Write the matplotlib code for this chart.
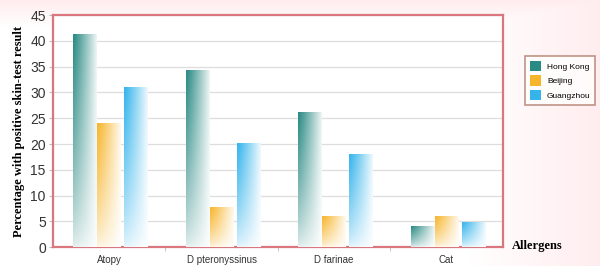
import numpy as np
import matplotlib.pyplot as plt
from matplotlib.patches import Patch

categories = ["Atopy", "D pteronyssinus", "D farinae", "Cat"]
series = ["Hong Kong", "Beijing", "Guangzhou"]
hong_kong = [41.3, 34.2, 26.0, 3.9]
beijing = [24.0, 7.7, 5.9, 5.9]
guangzhou = [30.9, 20.1, 18.0, 4.7]
colors = ["#2a8a84", "#f7b52c", "#35b4ec"]

values = [hong_kong, beijing, guangzhou]

fig = plt.figure(figsize=(6, 2.66), dpi=100)

# faint pinkish glow at the top and right
bg = fig.add_axes([0, 0, 1, 1], zorder=-10)
gx, gy = np.meshgrid(np.linspace(0, 1, 300), np.linspace(0, 1, 140))
glow = np.clip(np.maximum((gx - 0.78) / 0.22, (gy - 0.9) / 0.1), 0, 1) * 0.07
img = np.ones((140, 300, 3))
img[..., 1] -= glow
img[..., 2] -= glow * 0.9
bg.imshow(img, extent=[0, 1, 0, 1], origin="lower", aspect="auto")
bg.axis("off")

ax = fig.add_axes([0.088, 0.071, 0.75, 0.872])
ax.set_facecolor("white")

x = np.arange(len(categories))
width = 0.21
offsets = [-0.215, 0.0, 0.24]

# gradient: dark at top-left, fading to white at right and bottom
nx, ny = 60, 120
xf, yf = np.meshgrid(np.linspace(0, 1, nx), np.linspace(0, 1, ny))
weight = np.clip(1.0 - 0.92 * xf ** 1.1, 0, 1) * (0.12 + 0.88 * yf ** 0.7)

for vals, col, off in zip(values, colors, offsets):
    base = np.array(plt.matplotlib.colors.to_rgb(col))
    grad = weight[..., None] * base + (1 - weight[..., None]) * 1.0
    for xi, v in zip(x, vals):
        left = xi + off - width / 2
        ax.imshow(grad, extent=[left, left + width, 0, v], origin="lower",
                  aspect="auto", zorder=3, interpolation="bilinear")

ax.set_xlim(-0.5, 3.5)
ax.set_ylim(0, 45)
ax.set_yticks(np.arange(0, 46, 5))
ax.set_xticks(x)
ax.set_xticklabels(categories, fontsize=7, family="Liberation Sans", color="#333333")
ax.set_xticks([0.5, 1.5, 2.5], minor=True)
ax.tick_params(axis="x", which="major", length=0, pad=5.5)
ax.tick_params(axis="x", which="minor", length=3, color="#bbbbbb")
ax.tick_params(axis="y", length=3, color="#bbbbbb", labelsize=10, pad=2)
for lab in ax.get_yticklabels():
    lab.set_family("Liberation Sans")
    lab.set_color("#333333")

ax.grid(axis="y", color="#dddddd", linewidth=0.9, zorder=0)
ax.set_axisbelow(True)
for s in ax.spines.values():
    s.set_color("#d9767e")
    s.set_linewidth(1.6)

ax.set_ylabel("Percentage with positive skin-test result", fontsize=9,
              family="Liberation Serif", fontweight="bold", labelpad=4)
fig.text(0.853, 0.075, "Allergens", fontsize=9, family="Liberation Serif",
         fontweight="bold", va="center", ha="left")

handles = [Patch(facecolor=c, edgecolor="none") for c in colors]
leg = fig.legend(handles, series, loc="upper left", bbox_to_anchor=(0.868, 0.805),
                 frameon=True, fancybox=False, handlelength=1.4,
                 handleheight=1.6, labelspacing=0.45, borderpad=0.55,
                 handletextpad=0.7, prop={"family": "Liberation Sans", "size": 6})
leg.get_frame().set_edgecolor("#b07a6a")
leg.get_frame().set_linewidth(1.2)

fig.savefig("out.png", dpi=100)
